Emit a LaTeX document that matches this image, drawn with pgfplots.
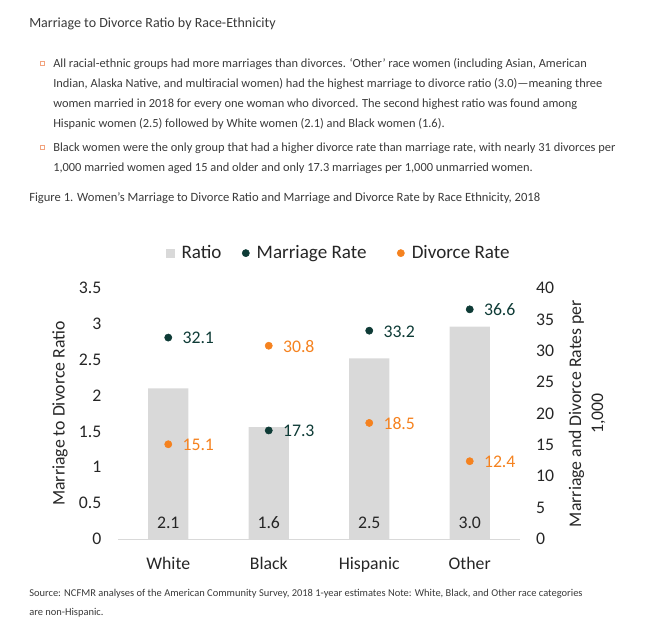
\documentclass[border=0pt]{standalone}
\usepackage{fontspec}
\setmainfont{Carlito}
\usepackage{pgfplots}
\pgfplotsset{compat=1.18}
\definecolor{barc}{HTML}{D9D9D9}
\definecolor{marc}{HTML}{0E3B36}
\definecolor{divc}{HTML}{F5821F}
\definecolor{txt}{HTML}{262626}
\definecolor{pagetxt}{HTML}{3A3A3A}
\definecolor{bul}{HTML}{F2A37E}
\newcommand{\chartfont}{\fontsize{13.3}{16.5}\selectfont}
\newcommand{\legfont}{\fontsize{14.3}{16.5}\selectfont}
\newcommand{\bodyfont}{\fontsize{9.3}{11}\selectfont}

\begin{document}
\begin{tikzpicture}
\path[use as bounding box] (0,0) rectangle (489.75pt,-468.75pt);

% page text, in pixel units
\begin{scope}[x=0.75pt,y=-0.75pt,every node/.style={anchor=base west,inner sep=0pt,text=pagetxt}]
\node[font=\fontsize{10.5}{12}\selectfont] at (29,27) {Marriage to Divorce Ratio by Race-Ethnicity};
\draw[bul,line width=0.6pt] (40.5,61.5) rectangle (44,65);
\draw[bul,line width=0.6pt] (40.5,145.5) rectangle (44,149);
\node[font=\bodyfont] at (53,67) {All racial-ethnic groups had more marriages than divorces. `Other' race women (including Asian, American};
\node[font=\bodyfont] at (53,87) {Indian, Alaska Native, and multiracial women) had the highest marriage to divorce ratio (3.0)---meaning three};
\node[font=\bodyfont] at (53,107) {women married in 2018 for every one woman who divorced. The second highest ratio was found among};
\node[font=\bodyfont] at (53,127) {Hispanic women (2.5) followed by White women (2.1) and Black women (1.6).};
\node[font=\bodyfont] at (53,151) {Black women were the only group that had a higher divorce rate than marriage rate, with nearly 31 divorces per};
\node[font=\bodyfont] at (53,171) {1,000 married women aged 15 and older and only 17.3 marriages per 1,000 unmarried women.};
\node[font=\fontsize{9.45}{11}\selectfont] at (29,201) {Figure 1. Women's Marriage to Divorce Ratio and Marriage and Divorce Rate by Race Ethnicity, 2018};
\node[font=\fontsize{7.85}{9}\selectfont] at (29,596) {Source: NCFMR analyses of the American Community Survey, 2018 1-year estimates Note: White, Black, and Other race categories};
\node[font=\fontsize{7.85}{9}\selectfont] at (29,615) {are non-Hispanic.};
\end{scope}

% ratio bars, left axis
\begin{axis}[
  at={(88.5pt,-404.25pt)}, anchor=south west,
  scale only axis, width=301.5pt, height=188.25pt,
  xmin=-0.5, xmax=3.5, ymin=0, ymax=3.5,
  xtick={0,1,2,3}, xticklabels={White,Black,Hispanic,Other},
  ytick={0,0.5,...,3.5},
  axis lines*=left, x axis line style={barc,-}, y axis line style={draw=none},
  major tick length=0pt,
  tick label style={font=\chartfont, text=txt},
  yticklabel style={xshift=-9pt},
  xticklabel style={yshift=-10pt},
  /pgf/number format/assume math mode=true,
  ylabel={Marriage to Divorce Ratio},
  ylabel style={font=\chartfont, text=txt, at={(axis description cs:-0.144,0.5)}, anchor=center},
  ybar, bar width=0.4, clip=false,
]
\addplot[fill=barc, draw=none] coordinates {(0,2.1) (1,1.56) (2,2.52) (3,2.96)};
\node[font=\chartfont,text=txt] at (axis cs:0,0.223) {2.1};
\node[font=\chartfont,text=txt] at (axis cs:1,0.223) {1.6};
\node[font=\chartfont,text=txt] at (axis cs:2,0.223) {2.5};
\node[font=\chartfont,text=txt] at (axis cs:3,0.223) {3.0};
\end{axis}

% marriage and divorce rates, right axis
\begin{axis}[
  at={(88.5pt,-404.25pt)}, anchor=south west,
  scale only axis, width=301.5pt, height=188.25pt,
  xmin=-0.5, xmax=3.5, ymin=0, ymax=40,
  ytick={0,5,...,40},
  hide x axis, axis y line*=right, y axis line style={draw=none},
  major tick length=0pt,
  tick label style={font=\chartfont, text=txt},
  yticklabel style={xshift=8.5pt},
  /pgf/number format/assume math mode=true,
  ylabel={Marriage and Divorce Rates per\\1,000},
  ylabel style={font=\chartfont, text=txt, align=center, at={(axis description cs:1.167,0.5)}, anchor=center},
  clip=false,
  legend style={at={(axis description cs:0.547,1.139)}, anchor=center, draw=none, fill=none,
    font=\legfont, text=txt, legend columns=-1,
    nodes={inner sep=0pt},
    /tikz/every odd column/.append style={column sep=5.5pt},
    /tikz/column 2/.style={column sep=15.5pt},
    /tikz/column 4/.style={column sep=23pt}},
  legend image code/.code={\draw[#1] plot coordinates {(0pt,0pt)};},
  nodes near coords={\pgfmathprintnumber[fixed,fixed zerofill,precision=1]{\pgfplotspointmeta}},
  nodes near coords style={anchor=west, inner sep=0pt, xshift=10.5pt, yshift=-0.5pt, font=\chartfont},
]
\addlegendimage{only marks, mark=square*, mark size=3pt, color=barc}
\addlegendentry{Ratio}
\addplot[only marks, mark=*, mark size=2.7pt, color=marc,
  every node near coord/.append style={text=marc}]
  coordinates {(0,32.1) (1,17.3) (2,33.2) (3,36.6)};
\addlegendentry{Marriage Rate}
\addplot[only marks, mark=*, mark size=2.7pt, color=divc,
  every node near coord/.append style={text=divc}]
  coordinates {(0,15.1) (1,30.8) (2,18.5) (3,12.4)};
\addlegendentry{Divorce Rate}
\end{axis}
\end{tikzpicture}
\end{document}
